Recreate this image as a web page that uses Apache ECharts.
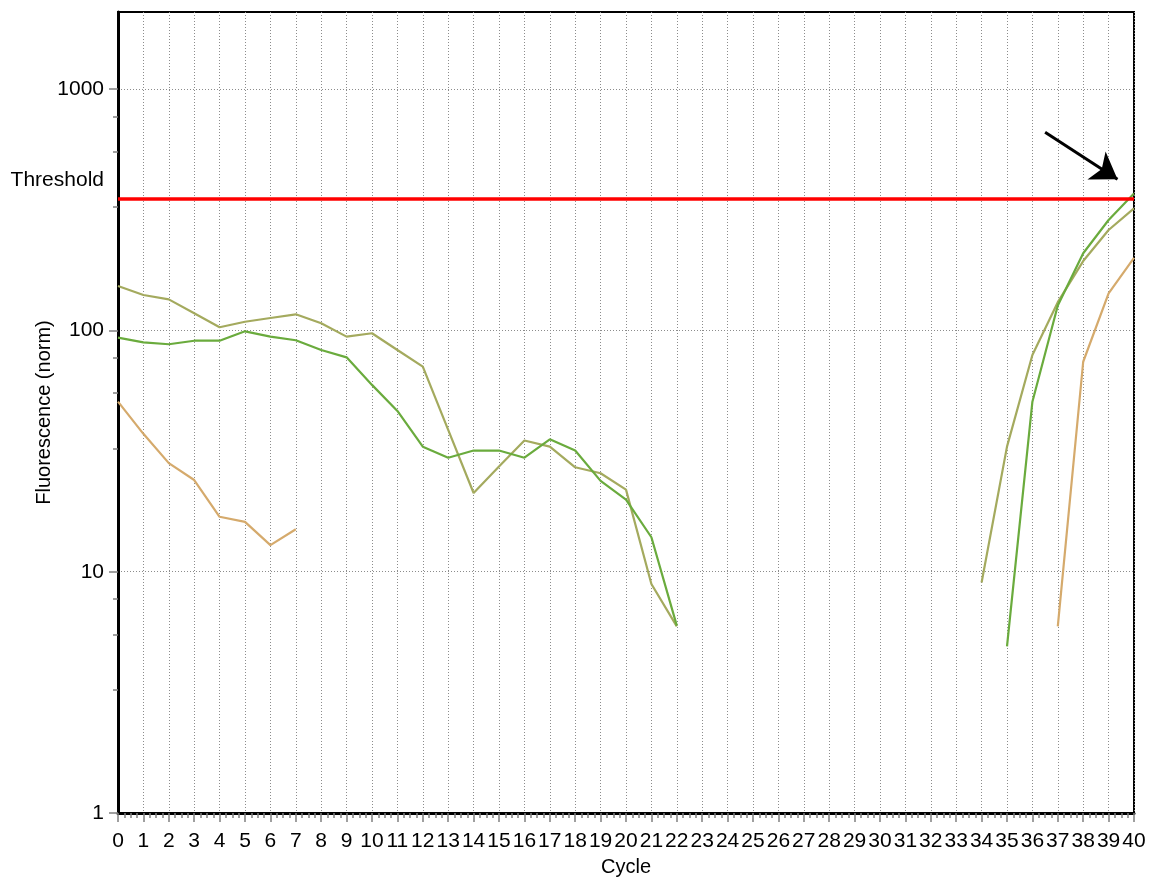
<!DOCTYPE html>
<html>
<head>
<meta charset="utf-8">
<title>Amplification plot</title>
<script src="https://cdn.jsdelivr.net/npm/echarts@6/dist/echarts.min.js"></script>
<style>
  html, body { margin: 0; padding: 0; background: #ffffff; }
  #chart { width: 1154px; height: 877px; }
</style>
</head>
<body>
<div id="chart"></div>
<script>
// Cycle numbers on the x axis
const cycles = [0, 1, 2, 3, 4, 5, 6, 7, 8, 9, 10, 11, 12, 13, 14, 15, 16, 17, 18, 19, 20,
  21, 22, 23, 24, 25, 26, 27, 28, 29, 30, 31, 32, 33, 34, 35, 36, 37, 38, 39, 40];

// Normalised fluorescence per cycle (null = no reading)
const wellOlive = [152.8, 140.3, 134.6, 117.8, 103.1, 108.7, 112.7, 116.7, 107.1, 94.3, 97.4,
  83.0, 70.8, 38.7, 21.2, 27.3, 35.0, 33.0, 27.1, 25.6, 21.9, 8.9, 5.94,
  null, null, null, null, null, null, null, null, null, null, null,
  9.03, 33.0, 79.2, 131, 194, 261, 321];

const wellGreen = [93.4, 89.3, 87.7, 90.7, 90.7, 99.2, 94.3, 91.1, 83.0, 77.4, 59.5,
  46.4, 33.0, 29.7, 31.8, 31.8, 29.7, 35.4, 31.8, 23.8, 19.9, 13.9, 5.98,
  null, null, null, null, null, null, null, null, null, null, null, null,
  4.9, 50.7, 127, 209, 287, 370];

const wellTan = [50.7, 37.3, 28.2, 24.0, 16.9, 16.1, 12.9, 15.0,
  null, null, null, null, null, null, null, null, null, null,
  null, null, null, null, null, null, null, null, null, null,
  null, null, null, null, null, null, null, null, null,
  5.94, 74.2, 142.6, 200];

// Threshold level and the arrow pointing at the crossing
const thresholdValue = 350;
const arrowFrom = [36.5, 664];
const arrowTo = [39.35, 424];

// Y axis ticks
const yMajorTicks = [1, 10, 100, 1000];
const yMinorTicks = [3.25, 5.5, 7.7, 32.5, 55, 77, 325, 550, 770];
const yMin = 1;
const yMax = 2090;

const FONT = 'Liberation Sans, Arial, sans-serif';

function pairs(values) {
  return cycles.map((c, i) => [c, values[i] == null ? '-' : values[i]]);
}

const chart = echarts.init(document.getElementById('chart'), null, { renderer: 'canvas' });

const dotted = { color: '#8c8c8c', width: 1, type: [1, 2] };

chart.setOption({
  animation: false,
  backgroundColor: '#ffffff',
  textStyle: { fontFamily: FONT },
  grid: {
    left: 118, right: 20, top: 12, bottom: 64,
    containLabel: false,
    outerBoundsMode: 'none',
    show: true, borderColor: '#000', borderWidth: 2, backgroundColor: 'transparent'
  },
  xAxis: {
    type: 'value',
    min: 0, max: 40, interval: 1,
    name: 'Cycle',
    nameLocation: 'middle',
    nameGap: 44,
    nameMoveOverlap: false,
    nameTextStyle: { fontSize: 20, color: '#000', fontFamily: FONT },
    axisLine: { show: true, onZero: false, lineStyle: { color: '#000', width: 3 } },
    axisTick: { show: true, length: 9, lineStyle: { color: '#808080', width: 1.5 } },
    minorTick: { show: true, splitNumber: 4, length: 5, lineStyle: { color: '#808080', width: 1.5 } },
    axisLabel: { fontSize: 21, color: '#000', margin: 18, fontFamily: FONT, hideOverlap: false,
      formatter: (v) => String(v) },
    splitLine: { show: true, lineStyle: dotted },
    minorSplitLine: { show: false }
  },
  yAxis: [
    {
      type: 'log', logBase: 10,
      min: yMin, max: yMax,
      name: 'Fluorescence (norm)',
      nameLocation: 'middle',
      nameGap: 64,
      nameMoveOverlap: false,
      nameTextStyle: { fontSize: 20, color: '#000', fontFamily: FONT },
      axisLine: { show: true, onZero: false, lineStyle: { color: '#000', width: 3 } },
      axisTick: { show: true, length: 9, customValues: yMajorTicks, lineStyle: { color: '#808080', width: 1.5 } },
      axisLabel: { fontSize: 21, color: '#000', margin: 14, customValues: yMajorTicks, fontFamily: FONT,
        formatter: (v) => String(Math.round(v)) },
      splitLine: { show: true, lineStyle: dotted }
    },
    {
      type: 'log', logBase: 10,
      min: yMin, max: yMax,
      position: 'left',
      axisLine: { show: false },
      axisTick: { show: true, length: 5, customValues: yMinorTicks, lineStyle: { color: '#808080', width: 1.5 } },
      axisLabel: { show: false },
      splitLine: { show: false }
    }
  ],
  series: [
    {
      name: 'Well A',
      type: 'line',
      data: pairs(wellOlive),
      showSymbol: false,
      connectNulls: false,
      silent: true,
      lineStyle: { color: '#a4aa5e', width: 2.2 },
      itemStyle: { color: '#a4aa5e' },
      z: 3,
      markLine: {
        silent: true,
        symbol: ['none', 'none'],
        lineStyle: { color: '#ff0000', width: 3.5, type: 'solid' },
        label: {
          show: true,
          position: 'start',
          formatter: 'Threshold',
          distance: 14,
          verticalAlign: 'bottom',
          padding: [0, 0, 9, 0],
          color: '#000',
          fontSize: 21,
          fontFamily: FONT
        },
        data: [{ yAxis: thresholdValue }],
        z: 6
      }
    },
    {
      name: 'Well B',
      type: 'line',
      data: pairs(wellGreen),
      showSymbol: false,
      connectNulls: false,
      silent: true,
      lineStyle: { color: '#6aab3d', width: 2.2 },
      itemStyle: { color: '#6aab3d' },
      z: 4,
      markLine: {
        silent: true,
        symbol: ['none', 'arrow'],
        symbolSize: 25,
        lineStyle: { color: '#000', width: 3, type: 'solid' },
        itemStyle: { color: '#000' },
        label: { show: false },
        data: [[{ coord: arrowFrom }, { coord: arrowTo }]],
        z: 7
      }
    },
    {
      name: 'Well C',
      type: 'line',
      data: pairs(wellTan),
      showSymbol: false,
      connectNulls: false,
      silent: true,
      lineStyle: { color: '#d5aa6c', width: 2.2 },
      itemStyle: { color: '#d5aa6c' },
      z: 2
    }
  ]
});
</script>
</body>
</html>
